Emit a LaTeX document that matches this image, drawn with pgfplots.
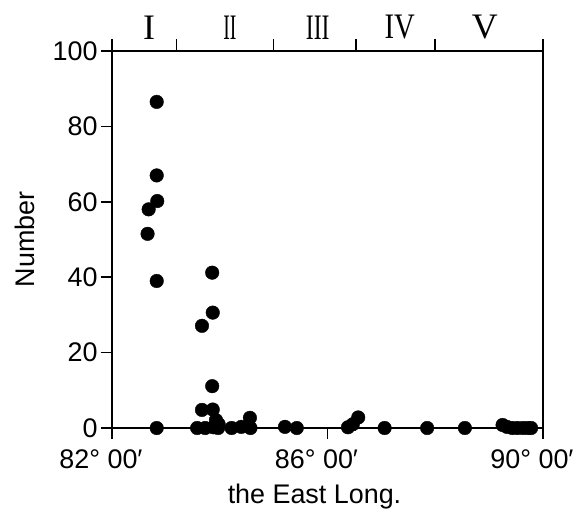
\documentclass[border=0pt]{standalone}
\usepackage{graphicx}
\usepackage{pgfplots}
\pgfplotsset{compat=1.18}
\usepackage{fontspec}
\setmainfont{Liberation Sans}
\newfontfamily\romanfont{Liberation Serif}

\begin{document}
\begin{tikzpicture}[font=\fontsize{27}{31}\selectfont]
\begin{axis}[
  width=431bp, height=377bp, scale only axis,
  xmin=82, xmax=90, ymin=0, ymax=100,
  axis line style={line width=1.6bp},
  every tick/.style={line width=1.6bp, black},
  tick align=outside, major tick length=11bp,
  xtick={82,86,90},
  xticklabels={82° 00′,86° 00′,90° 00′},
  tick label style={font=\fontsize{27}{31}\selectfont},
  label style={font=\fontsize{27}{31}\selectfont},
  xticklabel style={xshift=-11bp, yshift=-7bp},
  xtick pos=bottom, ytick pos=left,
  ytick={0,20,40,60,80,100},
  /pgf/number format/assume math mode=true,
  xlabel={the East Long.}, ylabel={Number},
  xlabel style={xshift=-13bp},
  xlabel shift=9bp, ylabel shift=11bp,
  clip=false,
]
% zone I
\addplot[only marks, mark=*, mark size=6.8bp, black] coordinates {
(82.83,86.5) (82.83,67.0) (82.84,60.2) (82.68,58.0) (82.66,51.5) (82.83,39.0) (82.83,0)
};
% zone II
\addplot[only marks, mark=*, mark size=6.8bp, black] coordinates {
(83.86,41.2) (83.87,30.6) (83.67,27.1) (83.86,11.1) (83.67,4.8) (83.87,4.9)
(83.93,2.1) (83.98,1.0) (83.58,0) (83.73,0) (83.88,0.2) (83.97,0)
(84.22,0) (84.40,0.3) (84.56,2.7) (84.57,0)
};
% zones III-V
\addplot[only marks, mark=*, mark size=6.8bp, black] coordinates {
(85.21,0.3) (85.43,0) (86.38,0.2) (86.47,1.0) (86.57,2.8) (87.06,0)
(87.85,0) (88.55,0)
(89.25,0.8) (89.33,0.3) (89.43,0) (89.53,0) (89.63,0) (89.72,0) (89.78,0)
};
\coordinate (bl) at (rel axis cs:0,0);
\coordinate (tr) at (rel axis cs:1,1);
\end{axis}
% top zone scale
\begin{axis}[
  width=431bp, height=377bp, scale only axis,
  xmin=82, xmax=90, ymin=0, ymax=100,
  axis x line*=top, axis y line=none,
  axis line style={line width=1.6bp, -},
  every tick/.style={line width=1.6bp, black},
  xtick={82.69,84.19,85.82,87.34,88.92},
  xticklabels={
    I,
    \scalebox{0.55}[1]{II},
    \scalebox{0.66}[1]{III},
    \scalebox{0.8}[1]{IV},
    V},
  major tick length=0pt,
  xticklabel style={font=\romanfont\fontsize{36}{40}\selectfont, yshift=8bp},
  extra x ticks={82,83.2,85,86.53,88,90},
  extra x tick labels={},
  extra x tick style={major tick length=12bp, tick align=outside},
]
\end{axis}
\pgfresetboundingbox
\path[use as bounding box] ([shift={(-112bp,-87bp)}]bl) rectangle ([shift={(43bp,51bp)}]tr);
\end{tikzpicture}
\end{document}
